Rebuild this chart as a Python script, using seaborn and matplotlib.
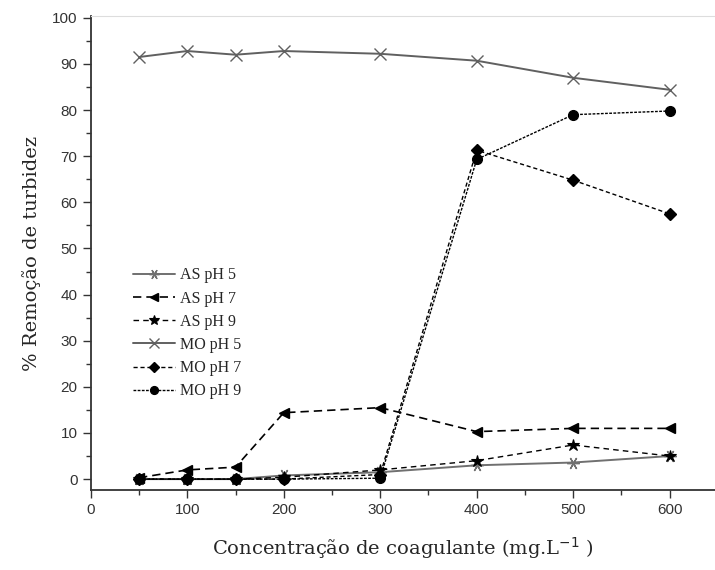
import numpy as np
import pandas as pd
import matplotlib
matplotlib.use("Agg")
import matplotlib.pyplot as plt
from matplotlib.ticker import MultipleLocator
import seaborn as sns

# Coagulant dose (mg/L)
dose = [50, 100, 150, 200, 300, 400, 500, 600]

# Turbidity removal (%) for each coagulant / pH
as_ph5 = [0.0, 0.0, 0.0, 0.8, 1.5, 3.0, 3.6, 5.0]
as_ph7 = [0.3, 2.0, 2.6, 14.4, 15.5, 10.3, 11.0, 11.0]
as_ph9 = [0.0, 0.0, 0.0, 0.4, 2.0, 4.0, 7.4, 5.0]
mo_ph5 = [91.5, 92.8, 92.0, 92.8, 92.2, 90.7, 87.0, 84.4]
mo_ph7 = [0.0, 0.0, 0.0, 0.0, 1.0, 71.3, 64.8, 57.5]
mo_ph9 = [0.0, 0.0, 0.0, 0.0, 0.2, 69.3, 79.0, 79.8]

series_names = ["AS pH 5", "AS pH 7", "AS pH 9", "MO pH 5", "MO pH 7", "MO pH 9"]
series_values = [as_ph5, as_ph7, as_ph9, mo_ph5, mo_ph7, mo_ph9]

df = pd.DataFrame({
    "dose": np.tile(dose, len(series_names)),
    "removal": np.concatenate(series_values),
    "serie": np.repeat(series_names, len(dose)),
})

styles = {
    "AS pH 5": dict(color="#707070", ls="-", marker=(6, 2, 90), ms=9, mew=1.0, lw=1.4),
    "AS pH 7": dict(color="black", ls=(0, (5, 3)), marker="<", ms=7, mew=1.0, lw=1.2),
    "AS pH 9": dict(color="black", ls=(0, (4, 3)), marker="*", ms=9, mew=0.8, lw=1.0),
    "MO pH 5": dict(color="#606060", ls="-", marker="x", ms=9, mew=1.0, lw=1.4),
    "MO pH 7": dict(color="black", ls=(0, (3, 2)), marker="D", ms=6, mew=1.0, lw=1.0),
    "MO pH 9": dict(color="black", ls=(0, (2, 1)), marker="o", ms=7, mew=1.0, lw=1.0),
}

sns.set_style("ticks")
plt.rcParams["font.family"] = ["Liberation Sans", "DejaVu Sans"]

fig = plt.figure(figsize=(7.15, 5.7), dpi=100)
ax = fig.add_axes([0.127, 0.14, 0.873, 0.832])

for name in series_names:
    st = styles[name]
    sub = df[df["serie"] == name]
    sns.lineplot(data=sub, x="dose", y="removal", ax=ax, label=name,
                 color=st["color"], linestyle=st["ls"], linewidth=st["lw"],
                 marker=st["marker"], markersize=st["ms"],
                 markeredgewidth=st["mew"], markeredgecolor=st["color"],
                 markerfacecolor=st["color"])

ax.set_xlim(0, 647)
ax.set_ylim(-2.4, 100.4)
ax.xaxis.set_major_locator(MultipleLocator(100))
ax.xaxis.set_minor_locator(MultipleLocator(50))
ax.yaxis.set_major_locator(MultipleLocator(10))
ax.yaxis.set_minor_locator(MultipleLocator(5))
ax.tick_params(which="major", direction="out", length=6, width=1, labelsize=11,
               colors="#333333", labelcolor="#333333")
ax.tick_params(which="minor", direction="out", length=3.5, width=1, colors="#333333")

for side in ["left", "bottom"]:
    ax.spines[side].set_color("#333333")
    ax.spines[side].set_linewidth(1.3)
ax.spines["top"].set_color("#dddddd")
ax.spines["right"].set_visible(False)

ax.set_xlabel("Concentração de coagulante (mg.L$^{-1}$ )", fontsize=14,
              family="DejaVu Serif", labelpad=13)
ax.set_ylabel("% Remoção de turbidez", fontsize=14, family="DejaVu Serif", labelpad=8)

leg = ax.legend(loc="upper left", bbox_to_anchor=(0.045, 0.50), frameon=False,
                handlelength=2.6, labelspacing=0.45, handletextpad=0.3,
                markerscale=0.8,
                prop={"family": "Liberation Serif", "size": 11.5})

fig.savefig("out.png", dpi=100)
